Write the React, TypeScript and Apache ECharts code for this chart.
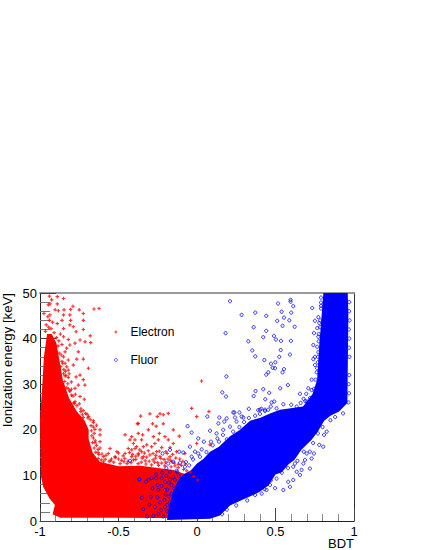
import React, { useEffect, useRef } from "react";
import * as echarts from "echarts";

const xTicks = [-1, -0.5, 0, 0.5, 1];
const yTicks = [0, 10, 20, 30, 40, 50];
const xName = "BDT";
const yName = "Ionization energy [keV]";

// Outlines of the saturated regions, where single markers can no longer be told apart
const electronDense: number[][] = [
  [-0.955, 41], [-0.925, 41], [-0.895, 39], [-0.875, 35], [-0.855, 31], [-0.815, 27], [-0.765, 24], [-0.715, 22],
  [-0.69, 20], [-0.69, 18], [-0.665, 15], [-0.62, 13], [-0.5, 12], [-0.36, 12.1], [-0.25, 11.6], [-0.15, 11.2],
  [-0.05, 10], [0, 7], [0.02, 1], [0, 0.6], [-0.5, 0.7], [-0.87, 0.7], [-0.92, 1.5], [-0.905, 3.5],
  [-0.94, 5], [-0.98, 7.5], [-0.995, 10], [-1, 22], [-0.985, 30], [-0.975, 36],
];
const fluorDense: number[][] = [
  [-0.191, 0.2], [-0.175, 3.4], [-0.153, 6.5], [-0.125, 8.6], [-0.089, 10.2], [-0.04, 11.1], [0, 12.6], [0.04, 13.6],
  [0.083, 15.2], [0.14, 16.3], [0.21, 18.6], [0.27, 19.9], [0.338, 22], [0.4, 22.6], [0.465, 23.6], [0.529, 24.4],
  [0.675, 25.1], [0.735, 27.8], [0.765, 30.9], [0.778, 38.2], [0.795, 45.6], [0.805, 50], [0.96, 50], [0.964, 45.6],
  [0.958, 25.9], [0.905, 24], [0.85, 23.1], [0.81, 22], [0.77, 19.6], [0.73, 17.8], [0.665, 15.6], [0.62, 13.4],
  [0.585, 12.5], [0.54, 10.7], [0.5, 10.2], [0.455, 7.8], [0.395, 6.3], [0.293, 4.7], [0.21, 3.4], [0.146, 1.2], [0.083, 0.5],
];

const electronPoints: number[][] = [
  [-0.94, 49.3], [-0.89, 49.2], [-0.85, 48.8], [-0.926, 48.5], [-0.936, 47.6], [-0.89, 47.6], [-0.79, 47.1], [-0.947, 47.4],
  [-0.656, 46.5], [-0.624, 46.6], [-0.805, 46.4], [-0.75, 46.3], [-0.904, 46.3], [-0.883, 46.1], [-0.847, 46.3], [-0.975, 45.5],
  [-0.724, 45.5], [-0.85, 45.2], [-0.81, 45.2], [-0.937, 45.2], [-0.86, 44], [-0.805, 44], [-0.724, 44], [-0.89, 43.3],
  [-0.81, 43], [-0.85, 42.2], [-0.788, 42.6], [-0.724, 42], [-0.77, 41.5], [-0.68, 40.6], [-0.85, 40.4], [-0.82, 39.8],
  [-0.745, 39.7], [-0.713, 39.3], [-0.677, 39.1], [-0.777, 39], [-0.81, 38.6], [-0.83, 37.9], [-0.756, 37.1], [-0.84, 37.1],
  [-0.766, 35.5], [-0.724, 35.5], [-0.82, 35.3], [-0.84, 34.6], [-0.788, 34.2], [-0.692, 33.5], [-0.82, 33.1], [-0.745, 32],
  [-0.724, 31], [-0.77, 31.6], [-0.82, 31.5], [-0.8, 30.5], [-0.714, 29.8], [-0.756, 29.8], [-0.777, 29.1], [-0.82, 29],
  [-0.8, 27.6], [-0.745, 27.3], [-0.718, 26.7], [-0.777, 26.2], [-0.805, 25.4], [-0.69, 22.9], [-0.724, 22.7],
  [-0.94, 44], [-0.96, 43], [-0.92, 43.6], [-0.95, 44.8], [-0.945, 42.5], [-0.93, 42.2], [-0.965, 41.6], [-0.91, 41.3],
  [-0.87, 41], [-0.86, 38.7], [-0.85, 36], [-0.83, 33.8], [-0.895, 40.2], [-0.885, 38.4], [-0.878, 36.8], [-0.865, 36.4],
  [-0.868, 33.9], [-0.848, 33.2], [-0.85, 32.3], [-0.835, 31.9], [-0.842, 30.6], [-0.823, 30.1], [-0.83, 29.2], [-0.81, 28.5],
  [-0.855, 34.6], [-0.838, 32.8], [-0.815, 32.3], [-0.8, 28.9], [-0.79, 27.4], [-0.775, 27.8], [-0.785, 25.9], [-0.765, 25.3],
  [-0.75, 25.7], [-0.74, 24.6], [-0.725, 24.2], [-0.71, 23.6], [-0.73, 23.3], [-0.695, 22.6], [-0.68, 22.2], [-0.66, 21.6],
  [-0.675, 20.9], [-0.66, 20.6], [-0.65, 20.1], [-0.672, 19.8], [-0.655, 19.2], [-0.67, 18.7], [-0.66, 18.2], [-0.648, 17.6],
  [-0.665, 17.2], [-0.64, 16.6], [-0.655, 16], [-0.63, 15.7], [-0.645, 15.1], [-0.625, 14.6], [-0.605, 14.7], [-0.63, 13.7],
  [-0.61, 13.4], [-0.585, 13.5], [-0.595, 13], [-0.56, 13.1], [-0.53, 12.9], [-0.545, 13.6], [-0.49, 12.6], [-0.465, 13],
  [-0.445, 12.6], [-0.42, 12.8], [-0.405, 13.4], [-0.375, 12.6], [-0.355, 12.9], [-0.325, 12.5], [-0.305, 13.1], [-0.29, 12.3],
  [-0.265, 13.8], [-0.245, 12.2], [-0.225, 12.7], [-0.205, 12.1], [-0.185, 13.6], [-0.165, 11.9], [-0.14, 12.1], [-0.12, 11.7],
  [-0.1, 12.2], [-0.085, 11.3], [-0.065, 11], [-0.04, 10.7], [-0.02, 9.8], [0.005, 9], [-0.47, 14.3], [-0.43, 15],
  [-0.39, 14.2], [-0.365, 15.6], [-0.335, 14.9], [-0.31, 15.4], [-0.28, 14.8], [-0.262, 14.4], [-0.24, 15.3], [-0.21, 13.5],
  [-0.19, 14.8], [-0.155, 14.6], [-0.135, 13.8], [-0.11, 13.6], [-0.09, 13.1], [-0.5, 14.9], [-0.52, 13.9], [-0.46, 13.7],
  [-0.41, 14.6], [-0.35, 13.8], [-0.32, 14], [-0.27, 12.9], [-0.23, 13.7], [-0.17, 13.3], [-0.145, 12.7], [-0.075, 12.5],
  [-0.359, 23], [-0.3, 23.5], [-0.236, 23.5], [-0.215, 23.3], [-0.183, 23.6], [-0.253, 22.9], [-0.38, 21.3], [-0.283, 21.3],
  [-0.215, 21.3], [-0.26, 20.8], [-0.002, 22.9], [-0.31, 20], [-0.151, 20], [-0.346, 18.9], [-0.24, 19.2], [-0.113, 18.6],
  [-0.204, 18.5], [-0.278, 18.5], [-0.427, 17.8], [-0.395, 17.8], [-0.353, 17.8], [-0.246, 17.8], [-0.183, 17.8], [-0.151, 17],
  [-0.268, 17], [-0.32, 16.7], [-0.405, 17], [-0.385, 16.3], [-0.342, 16.3], [-0.289, 16.3], [-0.225, 16.1], [-0.172, 16.1],
  [-0.416, 15.6], [-0.353, 15.2], [-0.257, 15.2], [-0.198, 15.2], [-0.13, 15.2], [-0.3, 14.5], [-0.374, 14.5], [-0.236, 14.1],
  [-0.172, 14.1], [-0.077, 14.8], [0.083, 16.7], [-0.002, 17], [0.029, 30.7], [-0.034, 24.7], [0.076, 24],
  [-0.66, 22], [-0.618, 20], [-0.618, 18.9], [-0.374, 21.4], [-0.458, 18.9], [-0.416, 18.5], [-0.374, 19.2], [-0.618, 17.4],
  [-0.554, 15.9], [-0.438, 15.9], [-0.51, 15.2], [-0.395, 15.9], [-0.565, 14.8], [-0.458, 14.8], [-0.374, 14.8], [-0.618, 16],
  [-0.597, 14.1], [-0.522, 14.1], [-0.416, 14.1], [-0.342, 14.1], [-0.48, 13.3], [-0.44, 13.1], [-0.39, 13.5], [-0.33, 13.2],
  [-0.28, 13.4], [-0.25, 12.8], [-0.2, 12.9], [-0.16, 13], [-0.12, 12.4], [-0.55, 13.2], [-0.58, 14.4], [-0.5, 13.6],
  [-0.88, 39.5], [-0.86, 35], [-0.84, 31.8], [-0.81, 28.5], [-0.78, 25.8], [-0.74, 24], [-0.7, 23.4], [-0.64, 21],
  [-0.65, 17.2], [-0.63, 15],
];

const fluorPoints: number[][] = [
  [0.596, 48.5], [0.596, 48.1], [0.516, 47.7], [0.613, 47.1], [0.734, 46.7], [0.539, 45.9], [0.6, 45.7], [0.441, 45],
  [0.554, 44.6], [0.511, 43.9], [0.588, 44], [0.545, 42.8], [0.622, 42.6], [0.441, 41.7], [0.49, 40.6], [0.422, 40.3],
  [0.503, 39.8], [0.535, 39.5], [0.598, 39.5], [0.745, 41.2], [0.741, 38.6], [0.533, 37.5], [0.592, 36.5], [0.524, 36],
  [0.429, 35.3], [0.499, 34.8], [0.471, 34.5], [0.482, 33.6], [0.497, 33.5], [0.554, 33.3], [0.545, 32.6], [0.454, 32.6],
  [0.441, 32.1], [0.741, 35.5], [0.751, 34.2], [0.579, 29.8], [0.53, 29.1], [0.422, 28.9], [0.46, 28.1], [0.435, 26.7],
  [0.475, 26], [0.492, 26.2], [0.656, 27.9], [0.696, 27.9], [0.679, 26.8], [0.73, 31], [0.709, 29.1], [0.73, 28.7],
  [0.401, 24.4], [0.433, 24.4], [0.454, 24.4], [0.507, 24.7], [0.635, 25.1], [0.751, 43.9], [0.773, 44.7], [0.79, 46.6],
  [0.79, 47.9], [0.766, 42.3], [0.779, 43.4], [0.773, 40.4], [0.766, 38.2], [0.773, 37], [0.751, 36],
  [0.21, 48.2], [0.284, 45.2], [0.371, 45.7], [0.182, 41.2], [0.361, 42.5], [0.327, 39.4], [0.352, 37.4], [0.371, 36.1],
  [0.187, 31.7], [0.373, 28.5], [0.161, 28.2], [0.185, 27.3], [0.361, 27.4], [0.238, 23.8], [0.066, 22.9], [0.142, 22.7],
  [0.189, 22.5], [0.242, 22.7], [0.295, 22.7], [0.39, 24.3], [0.433, 24.1],
  [-0.06, 20.8], [-0.034, 19.4], [0.083, 19.8], [0.008, 18.1], [0.044, 17.4], [0.089, 17.4], [0.125, 19.2], [0.13, 18.1],
  [0.167, 20], [0.136, 21.4], [0.174, 21.8], [0.231, 23.8], [0.284, 22.9], [0.401, 23.5], [0.21, 20.7], [0.252, 21.8],
  [0.306, 20], [0.358, 21], [-0.045, 16.3], [-0.013, 15.2], [0.008, 14.8], [-0.087, 15], [-0.113, 15.2], [-0.172, 15.6],
  [-0.219, 14.8], [-0.183, 12.6], [-0.034, 14.1], [0.019, 14.1], [-0.151, 13], [-0.108, 12.8], [-0.077, 11.9],
  [-0.13, 11], [-0.115, 9.8], [-0.07, 12.9], [-0.05, 12.2], [-0.025, 13.5], [0.03, 15.7], [0.06, 15.1], [0.1, 16.6],
  [0.14, 17.4], [0.165, 18.9], [0.19, 17.9], [0.23, 19.6], [0.27, 20.6], [0.3, 21.7], [0.33, 22.6], [0.37, 23.1],
  [0.41, 24.6], [0.47, 25.1], [0.55, 25.6], [0.6, 25.5], [0.66, 25.9], [0.7, 26.2], [0.33, 24.6], [0.27, 23.8],
  [-0.368, 9.1], [-0.31, 9], [-0.289, 9.4], [-0.261, 9.4], [-0.225, 9.4], [-0.172, 10.8], [-0.151, 9.7], [-0.108, 8.6],
  [-0.283, 7.2], [-0.246, 6.8], [-0.204, 6.8], [-0.162, 6], [-0.351, 5.1], [-0.295, 5.3], [-0.253, 5.2], [-0.208, 4.6],
  [-0.172, 4.2], [-0.304, 3.6], [-0.268, 3.1], [-0.342, 2.6], [-0.204, 3.1], [-0.176, 2.4], [-0.316, 1], [-0.278, 1.1],
  [-0.246, 1.5], [-0.215, 1], [-0.189, 3.5], [-0.168, 3.1], [-0.325, 8.6], [-0.204, 8.6], [-0.14, 9], [-0.162, 7.9],
  [-0.427, 13.2], [-0.367, 9.2],
  [-0.22, 10.6], [-0.195, 9.9], [-0.18, 8.4], [-0.19, 6.9], [-0.225, 7.7], [-0.18, 5.4], [-0.2, 5.8], [-0.235, 4.1],
  [-0.19, 2.1], [-0.23, 2.4], [-0.25, 7.9], [-0.125, 10.7], [-0.145, 7.1], [-0.17, 9.1], [-0.26, 10.2], [-0.195, 11.6],
  [0.826, 19.6], [0.809, 18.9], [0.804, 16.3], [0.779, 16.7], [0.745, 14.8], [0.719, 15.2], [0.698, 14.8], [0.73, 13.7],
  [0.719, 11.5], [0.677, 12.6], [0.656, 10.1], [0.666, 11.2], [0.624, 12.6], [0.613, 9], [0.581, 8.6], [0.592, 7.5],
  [0.55, 6.8], [0.507, 9.3], [0.497, 7.2], [0.443, 6.8], [0.465, 7.9], [0.412, 6], [0.635, 10.8], [0.688, 13.4], [0.613, 11.9],
  [0.97, 48], [0.972, 44], [0.97, 40], [0.971, 36], [0.97, 32], [0.968, 28], [0.965, 26], [0.966, 30], [0.968, 38],
  [0.969, 46], [0.967, 42], [0.79, 49], [0.785, 44], [0.775, 41], [0.77, 36], [0.765, 33.5], [0.755, 31], [0.745, 29],
  [0.72, 27], [0.69, 26.3], [0.79, 47.2], [0.785, 42.5], [0.775, 39.4], [0.77, 34.8], [0.762, 32.6], [0.93, 23.6],
  [0.88, 22.8], [0.85, 22.1], [0.8, 20.6], [0.77, 19.2], [0.74, 17.1], [0.68, 15.2], [0.64, 13.2], [0.58, 11.6],
  [0.54, 10.6], [0.47, 8.9], [0.43, 7], [0.37, 5.7], [0.32, 4.5], [0.25, 3.4], [0.19, 2.5], [0.16, 1.5],
];

const plusSymbol = "path://M1 0h1v1h1v1h-1v1h-1v-1h-1v-1h1z";
const RED = "#ff0000";
const BLUE = "#0000ff";

function outlineSeries(name: string, points: number[][], color: string) {
  return {
    type: "custom",
    name,
    silent: true,
    data: points,
    renderItem: (params: any, api: any) => {
      if (params.dataIndex !== 0) return null;
      return {
        type: "polygon",
        shape: { points: points.map((p) => api.coord(p)) },
        style: { fill: color },
      };
    },
  };
}

const option = {
  animation: false,
  backgroundColor: "#fff",
  textStyle: { fontFamily: "Liberation Sans" },
  grid: { left: 40, top: 293, width: 314, height: 228, show: false },
  legend: {
    left: 109,
    top: 321,
    orient: "vertical",
    itemWidth: 3,
    itemHeight: 3,
    itemGap: 16,
    textStyle: { fontFamily: "Liberation Sans", fontSize: 12, color: "#000", padding: [0, 0, 0, 8] },
    data: [
      { name: "Electron", icon: plusSymbol },
      {
        name: "Fluor",
        icon: "circle",
        itemStyle: { color: "#ffffff", borderColor: BLUE, borderWidth: 0.8 },
      },
    ],
  },
  xAxis: [
    {
      type: "value",
      min: -1,
      max: 1,
      interval: 0.5,
      position: "bottom",
      name: xName,
      nameLocation: "end",
      nameGap: 0,
      nameMoveOverlap: false,
      nameTextStyle: { fontSize: 13, color: "#000", align: "right", verticalAlign: "top", padding: [16, 0, 0, 0] },
      splitLine: { show: false },
      axisLine: { onZero: false, lineStyle: { color: "#222", width: 1 } },
      axisTick: { inside: true, length: 13, lineStyle: { color: "#444", width: 1 } },
      minorTick: { show: true, splitNumber: 5, length: 7, lineStyle: { color: "#888", width: 1 } },
      axisLabel: {
        fontSize: 13,
        color: "#000",
        margin: 4,
        showMinLabel: true,
        showMaxLabel: true,
        customValues: xTicks,
        formatter: (v: number) => String(v),
      },
    },
    {
      type: "value",
      min: -1,
      max: 1,
      position: "top",
      axisLine: { show: true, onZero: false, lineStyle: { color: "#999", width: 2 } },
      axisTick: { show: false },
      axisLabel: { show: false },
      splitLine: { show: false },
    },
  ],
  yAxis: [
    {
      type: "value",
      min: 0,
      max: 50,
      interval: 10,
      position: "left",
      name: yName,
      nameLocation: "end",
      nameRotate: 90,
      nameGap: 0,
      nameMoveOverlap: false,
      nameTextStyle: { fontSize: 13.2, color: "#000", align: "right", verticalAlign: "bottom", padding: [0, 0, 26, 0] },
      splitLine: { show: false },
      axisLine: { onZero: false, lineStyle: { color: "#222", width: 1 } },
      axisTick: { inside: true, length: 16, lineStyle: { color: "#444", width: 1 } },
      minorTick: { show: true, splitNumber: 5, length: 10, lineStyle: { color: "#777", width: 1 } },
      axisLabel: {
        fontSize: 13,
        color: "#000",
        margin: 3,
        showMinLabel: true,
        showMaxLabel: true,
        customValues: yTicks,
      },
    },
    {
      type: "value",
      min: 0,
      max: 50,
      position: "right",
      axisLine: { show: true, onZero: false, lineStyle: { color: "#333", width: 1 } },
      axisTick: { show: false },
      axisLabel: { show: false },
      splitLine: { show: false },
    },
  ],
  series: [
    outlineSeries("Electron region", electronDense, RED),
    {
      type: "scatter",
      name: "Electron",
      data: electronPoints,
      symbol: plusSymbol,
      symbolSize: 3.5,
      itemStyle: { color: RED },
    },
    outlineSeries("Fluor region", fluorDense, BLUE),
    {
      type: "scatter",
      name: "Fluor",
      data: fluorPoints,
      symbol: "circle",
      symbolSize: 3.2,
      itemStyle: { color: "transparent", borderColor: BLUE, borderWidth: 1 },
    },
  ],
};

export default function App() {
  const ref = useRef<HTMLDivElement>(null);
  useEffect(() => {
    const chart = echarts.init(ref.current!, undefined, { renderer: "svg" });
    chart.setOption(option as any);
    return () => chart.dispose();
  }, []);
  return <div ref={ref} style={{ position: "absolute", left: 0, top: 0, width: 425, height: 550 }} />;
}
